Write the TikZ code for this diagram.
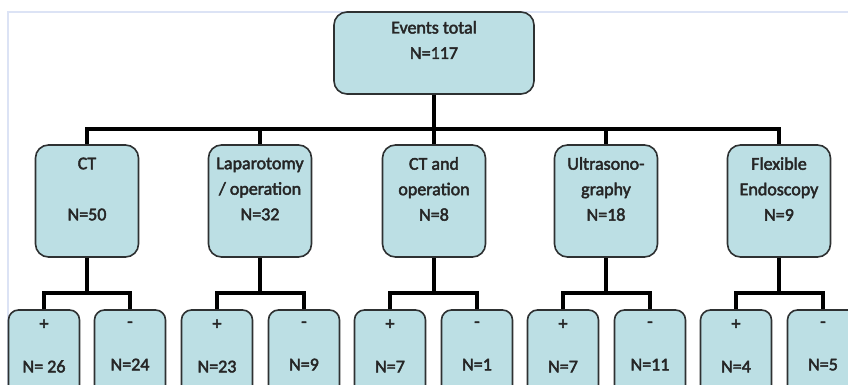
\documentclass[tikz,border=0pt]{standalone}
\usepackage{fontspec}
\setmainfont{Carlito}
\newcommand\heavytxt{\special{pdf:literal direct 2 Tr 0.45 w}}
\definecolor{boxfill}{HTML}{BCDFE4}
\definecolor{boxdraw}{HTML}{2E3132}
\definecolor{framecol}{HTML}{DCE3F5}
\begin{document}
\begin{tikzpicture}[x=1pt,y=-1pt,
  box/.style={draw=boxdraw, fill=boxfill, line width=1.6pt, rounded corners=13pt, inner sep=0pt},
  leafbox/.style={box, rounded corners=10pt, minimum width=71pt, minimum height=100pt},
  midbox/.style={box, minimum width=103pt, minimum height=112pt},
  txt/.style={font=\fontsize{18}{25.5}\selectfont\heavytxt, align=center, inner sep=0pt, text=black!85},
  conn/.style={line width=4pt, black},
  framel/.style={line width=2pt, draw=framecol}]
\useasboundingbox (0,0) rectangle (848,385);
\clip (0,0) rectangle (848,385);
\fill[white] (0,0) rectangle (848,385);
\draw[framel] (8,386) -- (8,12) -- (849,12);

% coordinates for buses
\coordinate (bus) at (434,129);
\coordinate (s1) at (87,293);
\coordinate (s2) at (260,293);
\coordinate (s3) at (434,293);
\coordinate (s4) at (606,293);
\coordinate (s5) at (779,293);

% top
\node[box, minimum width=200pt, minimum height=82pt] (top) at (434,53) {};
% level 2
\node[midbox] (c1) at (87,201) {};
\node[midbox] (c2) at (260,201) {};
\node[midbox] (c3) at (434,201) {};
\node[midbox] (c4) at (606,201) {};
\node[midbox] (c5) at (779,201) {};
% leaves
\node[leafbox] (p1) at (44,360) {};
\node[leafbox] (m1) at (130,360) {};
\node[leafbox] (p2) at (217,360) {};
\node[leafbox] (m2) at (304,360) {};
\node[leafbox] (p3) at (390,360) {};
\node[leafbox] (m3) at (477,360) {};
\node[leafbox] (p4) at (563,360) {};
\node[leafbox] (m4) at (650,360) {};
\node[leafbox] (p5) at (736,360) {};
\node[leafbox] (m5) at (823,360) {};

% connectors
\draw[conn] (top.south) -- (bus);
\draw[conn] (c1.north) |- (c5.north |- bus) -- (c5.north);
\draw[conn] (c2.north) -- (c2.north |- bus);
\draw[conn] (c3.north) -- (c3.north |- bus);
\draw[conn] (c4.north) -- (c4.north |- bus);
\foreach \i in {1,...,5}{
  \draw[conn] (c\i.south) -- (s\i);
  \draw[conn] (p\i.north) |- (s\i) -| (m\i.north);
}

% texts
\node[txt] (ttop) at (434,40) {Events total\\N=117};
\node[txt] (t1) at (87,189) {CT\\[0pt]\strut\\N=50};
\node[txt] (t2) at (260,189) {Laparotomy\\/ operation\\N=32};
\node[txt] (t3) at (434,189) {CT and\\operation\\N=8};
\node[txt] (t4) at (606,189) {Ultrasono-\\graphy\\N=18};
\node[txt] (t5) at (779,189) {Flexible\\Endoscopy\\N=9};

\node[txt] (tp1) at (44,346) {+\\[17.5pt]N= 26};
\node[txt] (tm1) at (130,346) {-\\[17.5pt]N=24};
\node[txt] (tp2) at (217,346) {+\\[17.5pt]N=23};
\node[txt] (tm2) at (304,346) {-\\[17.5pt]N=9};
\node[txt] (tp3) at (390,346) {+\\[17.5pt]N=7};
\node[txt] (tm3) at (477,346) {-\\[17.5pt]N=1};
\node[txt] (tp4) at (563,346) {+\\[17.5pt]N=7};
\node[txt] (tm4) at (650,346) {-\\[17.5pt]N=11};
\node[txt] (tp5) at (736,346) {+\\[17.5pt]N=4};
\node[txt] (tm5) at (823,346) {-\\[17.5pt]N=5};
\end{tikzpicture}
\end{document}
